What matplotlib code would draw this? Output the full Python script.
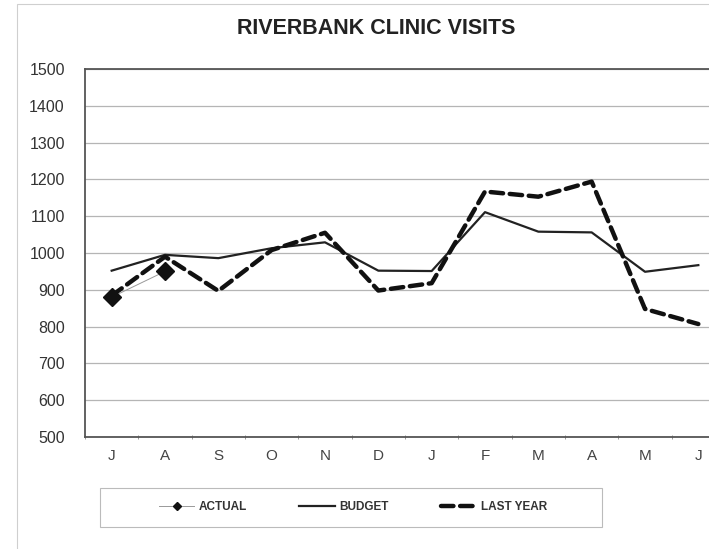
import matplotlib.pyplot as plt
from matplotlib.lines import Line2D
from matplotlib.patches import Rectangle

plt.rcParams["font.family"] = ["Liberation Sans", "DejaVu Sans"]

months = ["J", "A", "S", "O", "N", "D", "J", "F", "M", "A", "M", "J"]
actual = [880, 950]
budget = [952, 995, 986, 1013, 1029, 952, 951, 1111, 1058, 1056, 949, 967]
last_year = [884, 990, 897, 1008, 1055, 898, 918, 1167, 1153, 1194, 848, 807]

W, H = 709, 549
fig = plt.figure(figsize=(W / 100, H / 100), dpi=100, facecolor="white")
# faint outer chart border (right/bottom edges fall outside the crop)
fig.add_artist(Rectangle((17 / W, -0.1), 1.2, (545 / H) + 0.1, transform=fig.transFigure,
                         fill=False, edgecolor="#cfcfcf", linewidth=0.8))

ax = fig.add_axes([85 / W, 112 / H, 640 / W, 368 / H])
x = list(range(len(months)))

ax.plot(x, budget, color="#222222", linewidth=1.6, zorder=3)
ax.plot(x, last_year, color="#111111", linewidth=3.2, linestyle=(0, (2.8, 1.5)),
        dash_capstyle="round", zorder=3)
ax.plot(x[:len(actual)], actual, color="#999999", linewidth=0.7, marker="D",
        markersize=9, markerfacecolor="#111111", markeredgecolor="#111111", zorder=4)

ax.set_xlim(-0.5, 11.5)
ax.set_ylim(500, 1500)
ax.set_yticks(range(500, 1501, 100))
ax.set_xticks(x)
ax.set_xticklabels(months)
ax.set_xticks([i + 0.5 for i in range(-1, 12)], minor=True)
ax.tick_params(axis="x", which="major", length=0, pad=9, labelsize=11, labelcolor="#444444")
ax.tick_params(axis="x", which="minor", length=3, color="#888888", direction="inout")
ax.tick_params(axis="y", length=0, pad=14.5, labelsize=11.5, labelcolor="#333333")

ax.grid(axis="y", color="#b5b5b5", linewidth=0.9)
ax.set_axisbelow(True)
for side in ["left", "bottom", "top"]:
    ax.spines[side].set_color("#555555")
    ax.spines[side].set_linewidth(1.3)
ax.spines["right"].set_visible(False)

fig.text(376 / W, 1 - 28 / H, "RIVERBANK CLINIC VISITS", ha="center", va="center",
         fontsize=15.5, fontweight="bold", color="#222222")

# legend box drawn separately so its padding can match the reference
fig.add_artist(Rectangle((100 / W, 1 - 527 / H), 502 / W, 39 / H, transform=fig.transFigure,
                         fill=False, edgecolor="#bbbbbb", linewidth=0.8))
handles = [
    Line2D([], [], color="#999999", linewidth=0.7, marker="D", markersize=4,
           markerfacecolor="#111111", markeredgecolor="#111111"),
    Line2D([], [], color="#222222", linewidth=1.6),
    Line2D([], [], color="#111111", linewidth=3.2, linestyle=(0, (2.8, 1.5)), dash_capstyle="round"),
]
leg = fig.legend(handles, ["ACTUAL", "BUDGET", "LAST YEAR"], loc="center",
                 bbox_to_anchor=(353 / W, 1 - 507 / H), ncol=3, frameon=False,
                 fontsize=8.5, handlelength=3.0, columnspacing=4.4, handletextpad=0.4)
for t in leg.get_texts():
    t.set_color("#333333")
    t.set_fontweight("bold")

fig.savefig("out.png", dpi=100, facecolor="white")
